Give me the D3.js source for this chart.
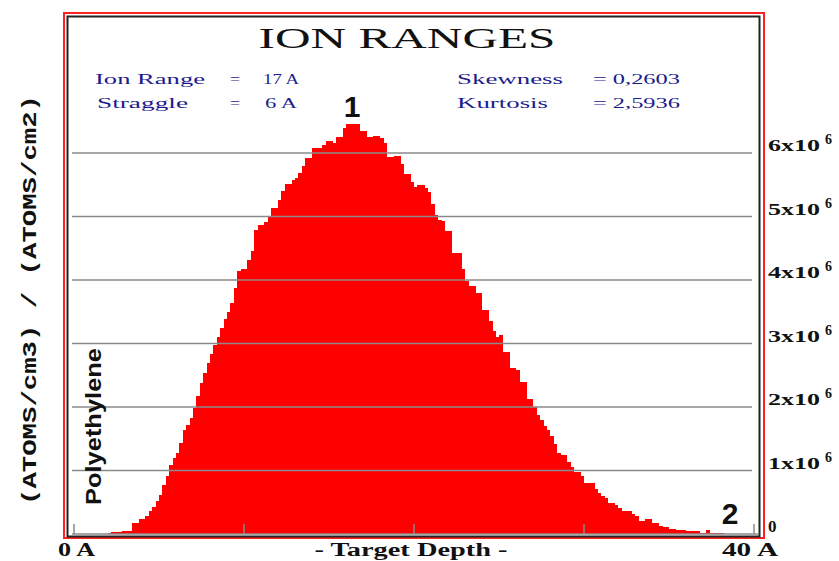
<!DOCTYPE html>
<html>
<head>
<meta charset="utf-8">
<title>Ion Ranges</title>
<script src="https://cdn.jsdelivr.net/npm/d3@7"></script>
<style>
  body { margin: 0; background: #fff; }
  svg { display: block; }
</style>
</head>
<body>
<div id="chart"></div>
<script>
// histogram of ion depths, bins of 0.2 A starting at 2.0 A (values in 1e6 atoms/cm3 per atoms/cm2)
var binWidth = 0.2;
var depthStart = 2.0;
var counts = [
  0.02, 0.03, 0.03, 0.03, 0.05, 0.05, 0.05, 0.17, 0.17, 0.23,
  0.23, 0.28, 0.36, 0.42, 0.52, 0.62, 0.77, 0.92, 1.08, 1.20,
  1.28, 1.43, 1.64, 1.72, 1.83, 1.98, 2.17, 2.38, 2.53, 2.69,
  2.83, 2.98, 3.11, 3.24, 3.39, 3.50, 3.64, 3.88, 4.14, 4.18,
  4.18, 4.32, 4.45, 4.79, 4.87, 4.87, 4.92, 5.00, 5.13, 5.13,
  5.26, 5.40, 5.51, 5.51, 5.58, 5.61, 5.69, 5.79, 5.92, 5.92,
  6.08, 6.08, 6.08, 6.12, 6.19, 6.19, 6.16, 6.25, 6.25, 6.40,
  6.46, 6.45, 6.45, 6.45, 6.35, 6.35, 6.25, 6.25, 6.27, 6.27,
  6.23, 6.16, 5.93, 5.93, 5.96, 5.96, 5.82, 5.67, 5.67, 5.55,
  5.47, 5.49, 5.49, 5.45, 5.39, 5.20, 5.03, 4.95, 4.93, 4.77,
  4.77, 4.43, 4.43, 4.43, 4.18, 3.98, 3.91, 3.91, 3.80, 3.80,
  3.53, 3.53, 3.36, 3.20, 3.10, 3.13, 2.87, 2.87, 2.62, 2.62,
  2.59, 2.39, 2.39, 2.12, 2.12, 2.00, 1.87, 1.79, 1.70, 1.63,
  1.55, 1.41, 1.28, 1.25, 1.25, 1.14, 1.05, 0.97, 0.97, 0.91,
  0.80, 0.80, 0.80, 0.71, 0.64, 0.60, 0.57, 0.49, 0.49, 0.45,
  0.41, 0.37, 0.37, 0.36, 0.32, 0.28, 0.20, 0.20, 0.23, 0.23,
  0.18, 0.18, 0.13, 0.11, 0.11, 0.08, 0.08, 0.06, 0.06, 0.06,
  0.04, 0.04, 0.04, 0.04, 0.02, 0.02, 0.06, 0.02, 0.02, 0.02,
  0.02
];
var yTicks = [1, 2, 3, 4, 5, 6];
var xTicks = [0, 10, 20, 30, 40];
var statsLeft = [["Ion Range", "=", "17 A"], ["Straggle", "=", "6 A"]];
var statsRight = [["Skewness", "= 0,2603"], ["Kurtosis", "= 2,5936"]];

var W = 839, H = 561;
var svg = d3.select("#chart").append("svg")
  .attr("width", W)
  .attr("height", H);

svg.append("rect").attr("width", W).attr("height", H).attr("fill", "#fff");

var x = d3.scaleLinear().domain([0, 40]).range([74, 754]);
var y = d3.scaleLinear().domain([0, 6]).range([534, 153]);

var data = counts.map(function(v, i) {
  return { x0: depthStart + i * binWidth, v: v };
});

// bars
svg.append("g")
  .selectAll("rect")
  .data(data)
  .enter().append("rect")
  .attr("x", function(d) { return x(d.x0); })
  .attr("width", x(binWidth) - x(0) + 0.4)
  .attr("y", function(d) { return y(d.v); })
  .attr("height", function(d) { return y(0) - y(d.v); })
  .attr("fill", "#ff0000")
  .attr("shape-rendering", "crispEdges");

// grid lines on top of bars
svg.append("g")
  .selectAll("line")
  .data(yTicks)
  .enter().append("line")
  .attr("x1", 72).attr("x2", 752)
  .attr("y1", function(d) { return y(d); })
  .attr("y2", function(d) { return y(d); })
  .attr("stroke", "#8a8a8a")
  .attr("stroke-width", 1.6);

// baseline and depth ticks
svg.append("line")
  .attr("x1", 72).attr("x2", 758)
  .attr("y1", y(0)).attr("y2", y(0))
  .attr("stroke", "#8a8a8a").attr("stroke-width", 1.5);

svg.append("g")
  .selectAll("line")
  .data(xTicks)
  .enter().append("line")
  .attr("x1", function(d) { return x(d); })
  .attr("x2", function(d) { return x(d); })
  .attr("y1", y(0) - 10).attr("y2", y(0))
  .attr("stroke", "#8a8a8a").attr("stroke-width", 1.5);

// frames
svg.append("rect")
  .attr("x", 64).attr("y", 13).attr("width", 700).attr("height", 525)
  .attr("fill", "none").attr("stroke", "#ff2020").attr("stroke-width", 2);
svg.append("rect")
  .attr("x", 67.5).attr("y", 16.5).attr("width", 692).attr("height", 520)
  .attr("fill", "none").attr("stroke", "#222").attr("stroke-width", 2);

// title
svg.append("text")
  .attr("x", 407).attr("y", 48)
  .attr("text-anchor", "middle")
  .attr("font-family", "Liberation Serif")
  .attr("font-size", 30)
  .attr("textLength", 297)
  .attr("lengthAdjust", "spacingAndGlyphs")
  .attr("fill", "#111")
  .text("ION RANGES");

// stats
var statFont = "Liberation Serif", navy = "#1c1c8c";
var leftW = [[110, 10, 36], [91, 10, 32]];
statsLeft.forEach(function(row, i) {
  var yy = 84 + i * 24;
  [95 + (i ? 2 : 0), 230, 263 + (i ? 2 : 0)].forEach(function(xx, j) {
    svg.append("text")
      .attr("x", xx).attr("y", yy)
      .attr("font-family", statFont).attr("font-size", 14)
      .attr("fill", navy)
      .attr("textLength", leftW[i][j])
      .attr("lengthAdjust", "spacingAndGlyphs")
      .text(row[j]);
  });
});
var rightW = [[106, 87], [91, 87]];
statsRight.forEach(function(row, i) {
  var yy = 84 + i * 24;
  [457, 593].forEach(function(xx, j) {
    svg.append("text")
      .attr("x", xx).attr("y", yy)
      .attr("font-family", statFont).attr("font-size", 14)
      .attr("fill", navy)
      .attr("textLength", rightW[i][j])
      .attr("lengthAdjust", "spacingAndGlyphs")
      .text(row[j]);
  });
});

// markers 1 and 2
svg.append("text")
  .attr("x", 352).attr("y", 117)
  .attr("text-anchor", "middle")
  .attr("font-family", "Liberation Sans").attr("font-weight", "bold")
  .attr("font-size", 30).attr("fill", "#111")
  .text("1");
svg.append("text")
  .attr("x", 730).attr("y", 524)
  .attr("text-anchor", "middle")
  .attr("font-family", "Liberation Sans").attr("font-weight", "bold")
  .attr("font-size", 30).attr("fill", "#111")
  .text("2");

// right axis labels
var labels = svg.append("g")
  .attr("font-family", "Liberation Serif")
  .attr("font-weight", "bold")
  .attr("fill", "#111");
yTicks.forEach(function(t) {
  labels.append("text")
    .attr("x", 768).attr("y", y(t) - 2)
    .attr("font-size", 17)
    .attr("textLength", 52)
    .attr("lengthAdjust", "spacingAndGlyphs")
    .text(t + "x10");
  labels.append("text")
    .attr("x", 825).attr("y", y(t) - 9)
    .attr("font-size", 14)
    .text("6");
});
labels.append("text")
  .attr("x", 768).attr("y", y(0) - 2)
  .attr("font-size", 17)
  .text("0");

// depth axis labels
var bottom = svg.append("g")
  .attr("font-family", "Liberation Serif")
  .attr("font-weight", "bold")
  .attr("font-size", 18)
  .attr("fill", "#111");
bottom.append("text").attr("x", 58).attr("y", 556)
  .attr("textLength", 37).attr("lengthAdjust", "spacingAndGlyphs")
  .text("0 A");
bottom.append("text").attr("x", 411).attr("y", 556)
  .attr("text-anchor", "middle")
  .attr("textLength", 193).attr("lengthAdjust", "spacingAndGlyphs")
  .text("- Target Depth -");
bottom.append("text").attr("x", 722).attr("y", 556)
  .attr("textLength", 56).attr("lengthAdjust", "spacingAndGlyphs")
  .text("40 A");

// vertical unit label
svg.append("text")
  .attr("transform", "translate(36,300) rotate(-90)")
  .attr("text-anchor", "middle")
  .attr("font-family", "Liberation Mono")
  .attr("font-weight", "bold")
  .attr("font-size", 20)
  .attr("fill", "#111")
  .attr("textLength", 410)
  .attr("lengthAdjust", "spacingAndGlyphs")
  .text("(ATOMS/cm3) / (ATOMS/cm2)");

// target material
svg.append("text")
  .attr("transform", "translate(101,505) rotate(-90)")
  .attr("font-family", "Liberation Sans")
  .attr("font-weight", "bold")
  .attr("font-size", 22)
  .attr("fill", "#111")
  .attr("textLength", 157)
  .attr("lengthAdjust", "spacingAndGlyphs")
  .text("Polyethylene");
</script>
</body>
</html>
